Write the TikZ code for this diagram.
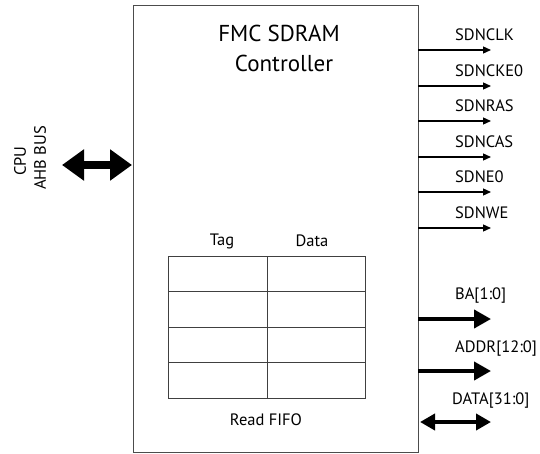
\documentclass[tikz,border=0pt]{standalone}
\usepackage{fontspec}
\setmainfont{PT Sans}
\usetikzlibrary{arrows.meta}
\begin{document}
\begin{tikzpicture}[x=1pt,y=-1pt,
  frame/.style={draw=black!70,line width=0.9pt},
  grid/.style={draw=black!75,line width=0.9pt},
  sig/.style={line width=1.3pt,-{Triangle[length=8pt,width=7pt]}},
  bus/.style={line width=4pt,-{Triangle[length=17pt,width=18pt]}},
  bibus/.style={line width=4pt,{Triangle[length=15pt,width=16pt]}-{Triangle[length=15pt,width=16pt]}},
  cpubus/.style={line width=8pt,{Triangle[length=22pt,width=30pt]}-{Triangle[length=22pt,width=30pt]}},
  lbl/.style={font=\fontsize{16.5}{19}\selectfont,anchor=west,inner sep=0pt},
  txt/.style={font=\fontsize{16.5}{19}\selectfont,inner sep=0pt}]
\useasboundingbox (0,0) rectangle (540,454);
\draw[frame] (133,5) rectangle (418,452);
\node[font=\fontsize{23}{26}\selectfont,inner sep=0pt] (t1) at (279,33) {FMC SDRAM};
\node[font=\fontsize{23}{26}\selectfont,inner sep=0pt] (t2) at (284,63) {Controller};
% CPU bus
\coordinate (cpuL) at (62,165);
\coordinate (cpuR) at (132,165);
\draw[cpubus] (cpuL) -- (cpuR);
\node[txt,rotate=90] (cpu) at (20,161) {CPU};
\node[txt,rotate=90] (ahb) at (40,158) {AHB BUS};
% signals
\foreach \n/\y/\t in {a/50/SDNCLK,b/86/SDNCKE0,c/121/SDNRAS,d/157/SDNCAS,e/192/SDNE0,f/228/SDNWE}{
  \coordinate (s\n) at (418,\y);
  \coordinate (e\n) at (491,\y);
  \draw[sig] (s\n) -- (e\n);
  \node[lbl] (l\n) at (455,\y-15) {\t};
}
\coordinate (baS) at (418,319); \coordinate (baE) at (491,319);
\draw[bus] (baS) -- (baE);
\node[lbl] (ba) at (455,296) {BA[1:0]};
\coordinate (adS) at (418,371); \coordinate (adE) at (491,371);
\draw[bus] (adS) -- (adE);
\node[lbl] (ad) at (455,349) {ADDR[12:0]};
\coordinate (daS) at (420,422); \coordinate (daE) at (491,422);
\draw[bibus] (daS) -- (daE);
\node[lbl] (da) at (452,401) {DATA[31:0]};
% FIFO
\draw[grid] (168,256) rectangle (365,398);
\draw[grid] (267,256) -- (267,398);
\foreach \y in {291.5,327,362.5}{\draw[grid] (168,\y) -- (365,\y);}
\node[txt] (tag) at (222,241) {Tag};
\node[txt] (data) at (312,241) {Data};
\node[txt] (rf) at (266,420) {Read FIFO};
\end{tikzpicture}
\end{document}
